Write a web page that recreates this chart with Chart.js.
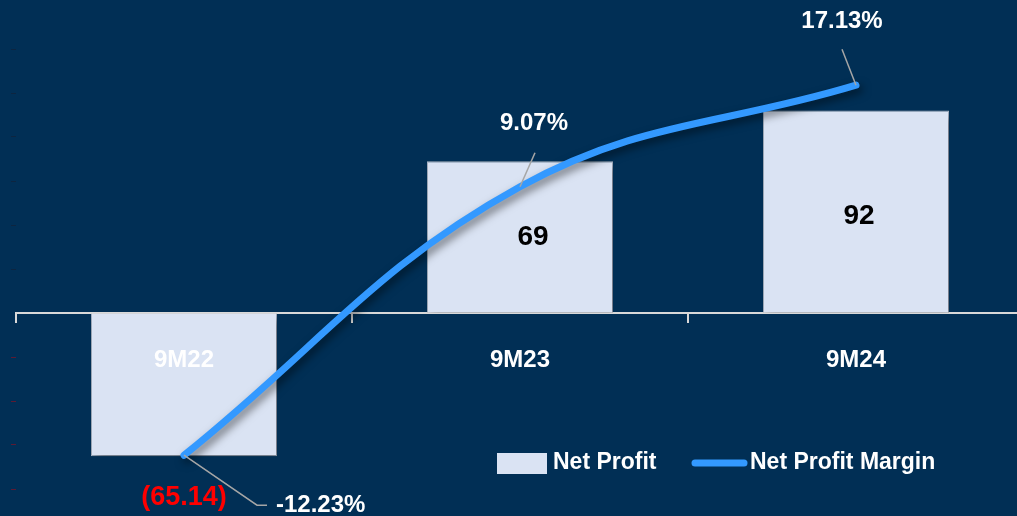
<!DOCTYPE html>
<html>
<head>
<meta charset="utf-8">
<script src="https://cdn.jsdelivr.net/npm/chart.js@4.4.1/dist/chart.umd.min.js"></script>
<style>
  html, body { margin: 0; padding: 0; background: #012f55; overflow: hidden; }
  #wrap { position: relative; width: 1024px; height: 533px; }
</style>
</head>
<body>
<div id="wrap"><canvas id="chart"></canvas></div>
<script>
// ====== DATA ======
const categories = ["9M22", "9M23", "9M24"];
const netProfit = [-65.14, 69, 92];
const netProfitMargin = [-12.23, 9.07, 17.13];

const FONT = "'Liberation Sans', Arial, sans-serif";
const BAR_COLOR = "#dae3f3";
const LINE_COLOR = "#3399ff";
const AXIS_COLOR = "#d9d9d9";

function fmtProfit(v) {
  return v < 0 ? `(${Math.abs(v).toFixed(2)})` : String(v);
}

// nudges for the bar value labels (px)
const profitLabelNudge = [[0, 41], [13, 0], [3, 5]];

// where each margin label sits, relative to its point
const marginLabelPos = [
  { leader: [[73, 50], [83, 50]], text: [92, 50], align: "left" },
  { leader: [[15, -34]], text: [14, -63], align: "center" },
  { leader: [[-14, -36]], text: [-14, -64], align: "center" }
];

const shadowPlugin = {
  id: "shadow",
  beforeDatasetDraw(chart) {
    const ctx = chart.ctx;
    ctx.save();
    ctx.shadowColor = "rgba(0,0,0,0.5)";
    ctx.shadowBlur = 9;
    ctx.shadowOffsetX = 3;
    ctx.shadowOffsetY = 4;
  },
  afterDatasetDraw(chart) {
    chart.ctx.restore();
  }
};

const labelPlugin = {
  id: "labels",
  afterDraw(chart) {
    const ctx = chart.ctx;
    const bars = chart.getDatasetMeta(0).data;
    const pts = chart.getDatasetMeta(1).data;
    ctx.save();
    ctx.textBaseline = "middle";
    ctx.textAlign = "center";

    bars.forEach((bar, i) => {
      const v = netProfit[i];
      const [dx, dy] = profitLabelNudge[i];
      if (v < 0) {
        ctx.fillStyle = "#ff0000";
        ctx.font = `bold 27px ${FONT}`;
        ctx.fillText(fmtProfit(v), bar.x + dx, bar.y + dy);
      } else {
        ctx.fillStyle = "#000000";
        ctx.font = `bold 28px ${FONT}`;
        ctx.fillText(fmtProfit(v), bar.x + dx, (bar.y + bar.base) / 2 + dy);
      }
    });

    ctx.strokeStyle = "#a6a6a6";
    ctx.lineWidth = 1.5;
    ctx.font = `bold 24px ${FONT}`;
    ctx.fillStyle = "#ffffff";
    pts.forEach((p, i) => {
      const pos = marginLabelPos[i];
      ctx.beginPath();
      ctx.moveTo(p.x, p.y);
      pos.leader.forEach(([dx, dy]) => ctx.lineTo(p.x + dx, p.y + dy));
      ctx.stroke();
      ctx.textAlign = pos.align;
      ctx.fillText(netProfitMargin[i].toFixed(2) + "%", p.x + pos.text[0], p.y + pos.text[1]);
    });

    // legend
    ctx.textAlign = "left";
    ctx.textBaseline = "alphabetic";
    ctx.font = `bold 23px ${FONT}`;
    ctx.fillStyle = BAR_COLOR;
    ctx.fillRect(497, 453, 50, 21);
    ctx.fillStyle = "#ffffff";
    ctx.fillText(chart.data.datasets[0].label, 553, 469);
    ctx.strokeStyle = LINE_COLOR;
    ctx.lineWidth = 7;
    ctx.lineCap = "round";
    ctx.beginPath();
    ctx.moveTo(695, 463);
    ctx.lineTo(744, 463);
    ctx.stroke();
    ctx.fillText(chart.data.datasets[1].label, 750, 469);
    ctx.restore();
  }
};

new Chart(document.getElementById("chart"), {
  data: {
    labels: categories,
    datasets: [
      {
        type: "bar",
        label: "Net Profit",
        data: netProfit,
        backgroundColor: BAR_COLOR,
        borderColor: "#b4bdcc",
        borderWidth: 1,
        categoryPercentage: 1,
        barPercentage: 0.554,
        yAxisID: "y",
        order: 2
      },
      {
        type: "line",
        label: "Net Profit Margin",
        data: netProfitMargin,
        borderColor: LINE_COLOR,
        borderWidth: 7,
        borderCapStyle: "round",
        tension: 0.4,
        pointRadius: 0,
        fill: false,
        yAxisID: "y1",
        order: 1
      }
    ]
  },
  options: {
    responsive: true,
    maintainAspectRatio: false,
    animation: false,
    layout: { padding: { left: 11, top: 49, right: 0, bottom: 0 } },
    plugins: { legend: { display: false }, tooltip: { enabled: false } },
    scales: {
      x: {
        position: { y: 0 },
        offset: true,
        afterFit: (scale) => { scale.height = 0; },
        grid: {
          offset: true,
          drawOnChartArea: false,
          tickLength: 9,
          lineWidth: 2,
          color: AXIS_COLOR
        },
        border: { color: AXIS_COLOR, width: 2 },
        ticks: {
          z: 1,
          color: "#ffffff",
          padding: 24,
          font: { family: FONT, size: 24, weight: "bold" }
        }
      },
      y: {
        min: -100,
        max: 120,
        ticks: { display: false, stepSize: 20 },
        border: { display: false },
        grid: {
          drawOnChartArea: false,
          tickLength: 5,
          color: (c) => c.tick.value > 0 ? "#0d2540" : (c.tick.value < 0 ? "#5c1b33" : "rgba(0,0,0,0)")
        }
      },
      y1: {
        display: false,
        min: -18.4,
        max: 20
      }
    }
  },
  plugins: [shadowPlugin, labelPlugin]
});
</script>
</body>
</html>
